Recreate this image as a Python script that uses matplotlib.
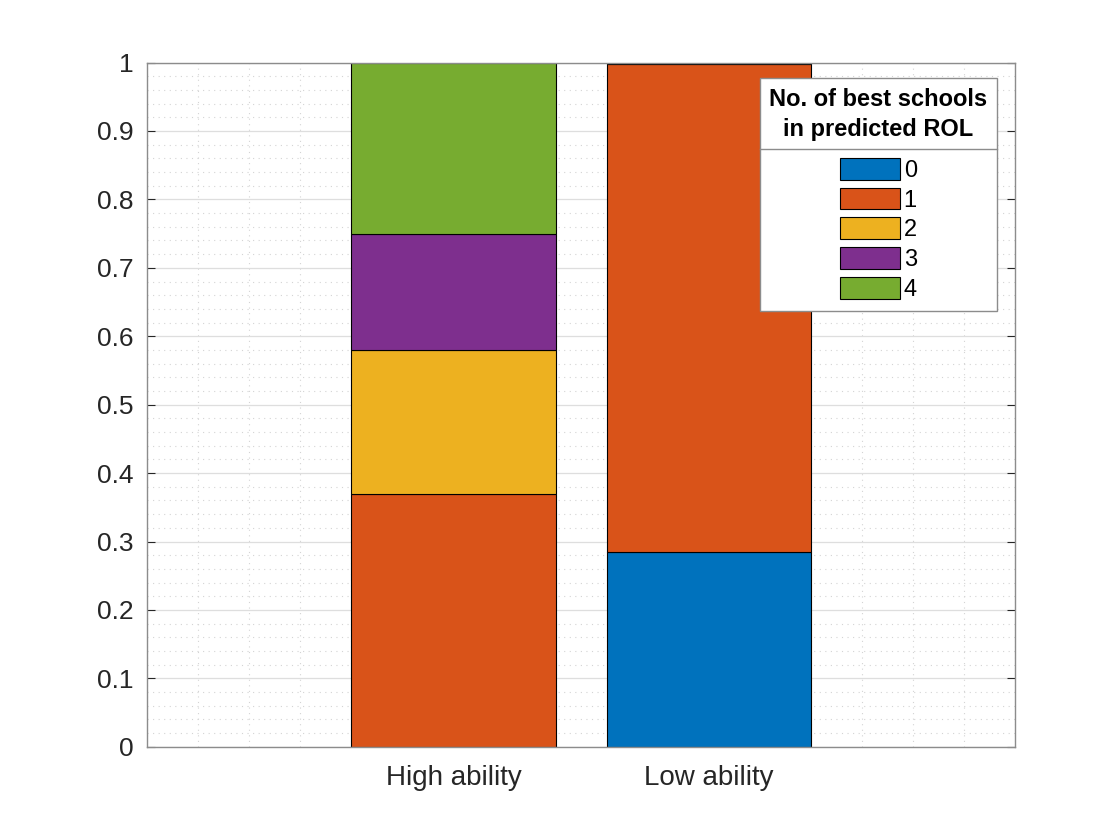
import matplotlib

matplotlib.use("Agg")

import matplotlib.pyplot as plt
import numpy as np
from matplotlib.lines import Line2D
from matplotlib.ticker import MultipleLocator

plt.rcParams["font.family"] = ["Liberation Sans", "DejaVu Sans"]

GROUPS = ["High ability", "Low ability"]
SCHOOL_COUNTS = ["0", "1", "2", "3", "4"]
# share of students per number of best schools (rows = count, cols = group)
SHARES = {
    "0": [0.0, 0.285],
    "1": [0.37, 0.7125],
    "2": [0.21, 0.0025],
    "3": [0.17, 0.0],
    "4": [0.25, 0.0],
}
COLORS = ["#0072BD", "#D95319", "#EDB120", "#7E2F8E", "#77AC30"]
AXIS_GRAY = "#262626"
SPINE_GRAY = "#8c8c8c"
TICK_SIZE = 19
LEGEND_SIZE = 17

fig = plt.figure(figsize=(11.2, 8.4), dpi=100)
ax = fig.add_axes([0.1313, 0.111, 0.775, 0.8145])

x = np.arange(1, len(GROUPS) + 1)
bottom = np.zeros(len(GROUPS))
for key, color in zip(SCHOOL_COUNTS, COLORS):
    vals = np.array(SHARES[key])
    ax.bar(x, vals, width=0.8, bottom=bottom, color=color, edgecolor="black",
           linewidth=0.8, label=key, zorder=3)
    bottom += vals

ax.set_xlim(-0.2, 3.2)
ax.set_ylim(0, 1)
ax.set_xticks(x)
ax.set_xticklabels(GROUPS)
ax.set_yticks(np.arange(0, 1.01, 0.1))
ax.set_yticklabels(["0"] + [f"{v:.1f}" for v in np.arange(0.1, 0.95, 0.1)] + ["1"])
ax.xaxis.set_minor_locator(MultipleLocator(0.2))
ax.yaxis.set_minor_locator(MultipleLocator(0.02))

ax.grid(which="major", color="#dedede", lw=0.9, zorder=0)
ax.grid(which="minor", color="#d4d4d4", lw=0.8, ls=(0, (1, 4)), zorder=0)
ax.set_axisbelow(True)

ax.tick_params(which="major", direction="in", length=6, width=0.8, color=AXIS_GRAY,
               labelcolor=AXIS_GRAY, labelsize=TICK_SIZE, top=True, right=True)
ax.tick_params(axis="y", pad=10)
ax.tick_params(axis="x", pad=13, labelsize=TICK_SIZE + 1)
ax.tick_params(which="minor", length=0, top=True, right=True)
for spine in ax.spines.values():
    spine.set_color(SPINE_GRAY)
    spine.set_linewidth(1.0)
    spine.set_zorder(5)

leg = ax.legend(
    title="No. of best schools\nin predicted ROL",
    loc="upper right",
    bbox_to_anchor=(0.979, 0.977),
    borderaxespad=0.0,
    fontsize=LEGEND_SIZE,
    title_fontproperties={"weight": "bold", "size": LEGEND_SIZE},
    handlelength=2.55,
    handleheight=1.05,
    handletextpad=0.15,
    labelspacing=0.25,
    fancybox=False,
    framealpha=1.0,
    edgecolor=SPINE_GRAY,
)
leg.get_title().set_linespacing(1.4)
leg.get_title().set_multialignment("center")
leg._legend_box.sep = 12
leg.get_frame().set_linewidth(1.0)
leg.set_zorder(10)

# separator line under the legend title, as in the original figure
fig.canvas.draw()
renderer = fig.canvas.get_renderer()
box = leg.get_window_extent(renderer)
tbox = leg.get_title().get_window_extent(renderer)
hbox = leg._legend_handle_box.get_window_extent(renderer)
y_sep = (tbox.y0 + hbox.y1) / 2
inv = fig.transFigure.inverted()
(x0, ys), (x1, _) = inv.transform([(box.x0, y_sep), (box.x1, y_sep)])
fig.add_artist(Line2D([x0, x1], [ys, ys], color=SPINE_GRAY, lw=1.0, zorder=20))

fig.savefig("out.png", dpi=100)
